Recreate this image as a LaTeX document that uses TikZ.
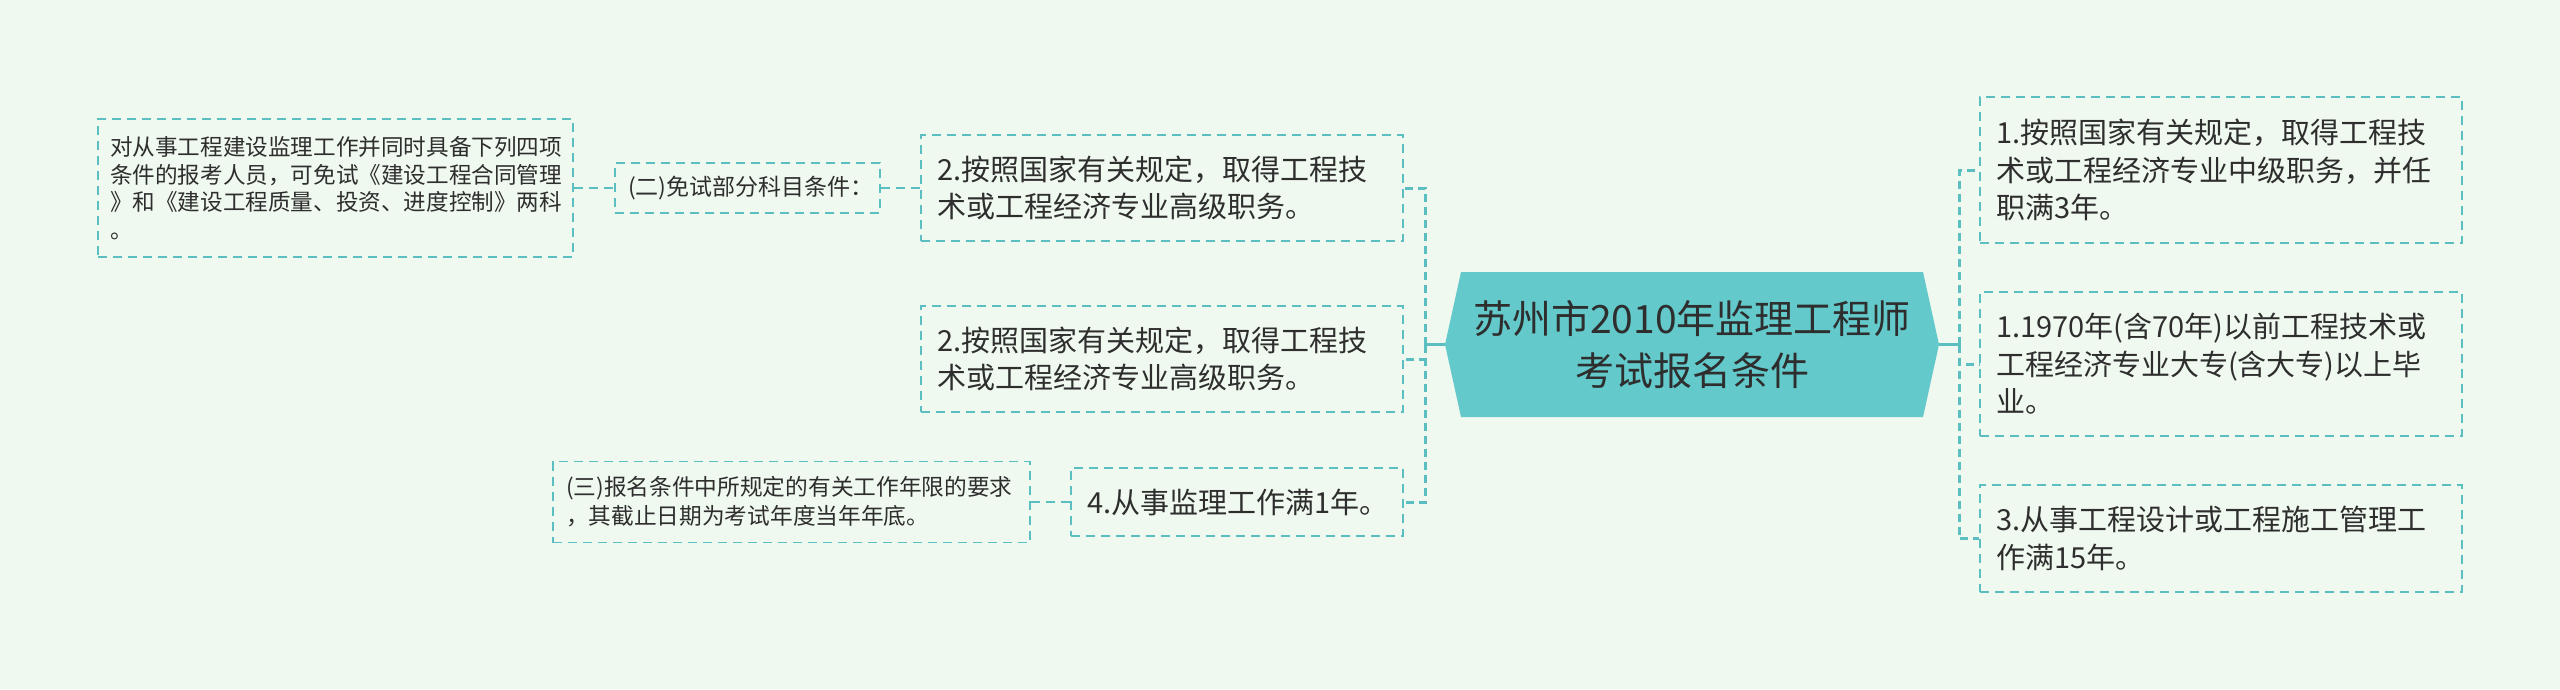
\documentclass[tikz,border=0pt]{standalone}
\usepackage{fontspec}
\setmainfont{Noto Sans CJK SC}
\usetikzlibrary{calc}
\definecolor{bgc}{HTML}{F0F9F0}
\definecolor{lineC}{HTML}{5BBFC1}
\definecolor{rootfill}{HTML}{63C9CB}
\definecolor{txt}{HTML}{2E2E2E}
\begin{document}
\begin{tikzpicture}[x=1pt,y=-1pt,
  box/.style={draw=lineC, line width=1.8pt, dash pattern=on 9pt off 6pt, align=left, text=txt, inner ysep=0pt, anchor=center},
  bigbox/.style={box, font=\fontsize{29}{37.5}\selectfont, inner xsep=16pt, text width=450pt},
  smallbox/.style={box, font=\fontsize{22.6}{27.5}\selectfont, inner xsep=12pt},
  conn/.style={draw=lineC, line width=3pt, dash pattern=on 8pt off 5pt},
  link/.style={draw=lineC, line width=2pt, dash pattern=on 9pt off 6pt},
  trunk/.style={draw=lineC, line width=3pt}]
\useasboundingbox (0,0) rectangle (2560,689);
\fill[bgc] (0,0) rectangle (2560,689);

% root
\fill[rootfill] (1461,272) -- (1923,272) -- (1939,344.5) -- (1923,417) -- (1461,417) -- (1445,344.5) -- cycle;
\coordinate (rootL) at (1445,344.5);
\coordinate (rootR) at (1939,344.5);
\node[font=\fontsize{39}{52}\selectfont, text=txt, align=center, inner sep=0pt] (root) at (1692,344.5) {苏州市2010年监理工程师\\考试报名条件};

% right
\node[bigbox, minimum height=146pt] (r1) at (2221,170) {1.按照国家有关规定，取得工程技\\术或工程经济专业中级职务，并任\\职满3年。};
\node[bigbox, minimum height=144pt] (r2) at (2221,364) {1.1970年(含70年)以前工程技术或\\工程经济专业大专(含大专)以上毕\\业。};
\node[bigbox, minimum height=107pt] (r3) at (2221,538.5) {3.从事工程设计或工程施工管理工\\作满15年。};

% left
\node[bigbox, minimum height=106pt] (A) at (1162,188) {2.按照国家有关规定，取得工程技\\术或工程经济专业高级职务。};
\node[bigbox, minimum height=106pt] (B) at (1162,359) {2.按照国家有关规定，取得工程技\\术或工程经济专业高级职务。};
\node[box, font=\fontsize{29}{37.5}\selectfont, inner xsep=16pt, text width=300pt, minimum height=68pt] (C) at (1237,502) {4.从事监理工作满1年。};

\node[smallbox, text width=451pt, minimum height=138pt] (F) at (335.5,188) {对从事工程建设监理工作并同时具备下列四项\\条件的报考人员，可免试《建设工程合同管理\\》和《建设工程质量、投资、进度控制》两科\\。};
\node[box, font=\fontsize{23}{28}\selectfont, inner xsep=13pt, text width=239pt, minimum height=50pt] (E) at (747.5,188) {(二)免试部分科目条件：};
\node[box, font=\fontsize{22.7}{29}\selectfont, inner xsep=13pt, text width=451pt, minimum height=81pt] (G) at (791.5,502) {(三)报名条件中所规定的有关工作年限的要求\\，其截止日期为考试年度当年年底。};

% connectors
\coordinate (jL) at (1425,344.5);
\coordinate (jR) at (1959,344.5);
\draw[trunk] (rootL) -- (jL);
\draw[trunk] (rootR) -- (jR);
\draw[conn] (jL) |- (A.east);
\draw[conn] (jL) |- (B.east);
\draw[conn] (jL) |- (C.east);
\draw[conn] (jR) |- (r1.west);
\draw[conn] (jR) |- (r2.west);
\draw[conn] (jR) |- (r3.west);
\draw[link] (E.east) -- (A.west);
\draw[link] (F.east) -- (E.west);
\draw[link] (G.east) -- (C.west);
\end{tikzpicture}
\end{document}
